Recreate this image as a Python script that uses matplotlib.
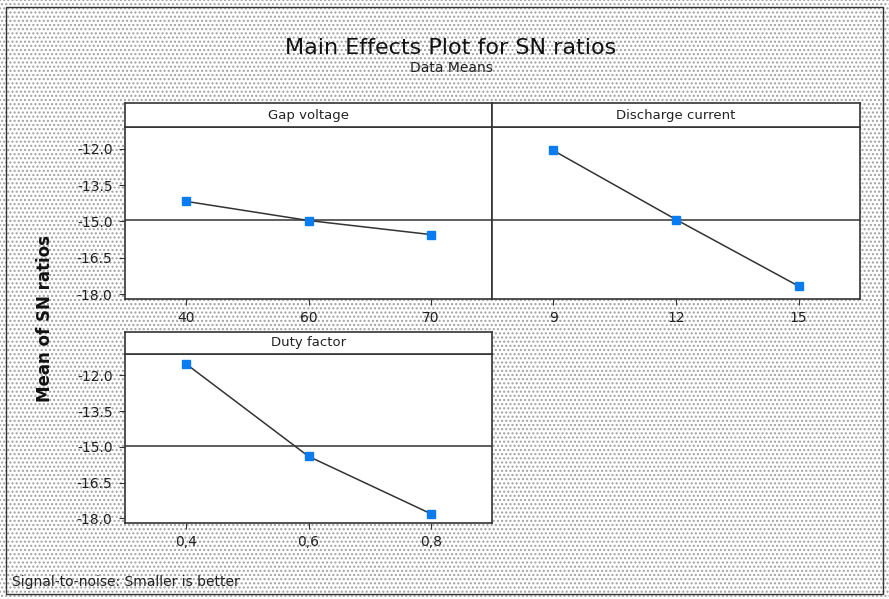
import matplotlib.pyplot as plt
from matplotlib.patches import Rectangle

# factor levels and mean SN ratios
gap_levels = ['40', '60', '70']
gap_sn = [-14.17, -14.96, -15.54]

current_levels = ['9', '12', '15']
current_sn = [-12.07, -14.92, -17.67]

duty_levels = ['0,4', '0,6', '0,8']
duty_sn = [-11.52, -15.40, -17.81]

overall_mean = -14.95
y_ticks = [-12.0, -13.5, -15.0, -16.5, -18.0]

W, H = 889, 599
fig = plt.figure(figsize=(W / 100, H / 100), dpi=100)

# dotted background like the minitab screenshot
bg = Rectangle((0, 0), 1, 1, transform=fig.transFigure, facecolor='white',
               edgecolor='#a0a0a0', hatch='....', lw=0, zorder=-10)
fig.patches.append(bg)
frame = Rectangle((6 / W, 5 / H), 1 - 12 / W, 1 - 12 / H, transform=fig.transFigure,
                  fill=False, edgecolor='#333333', lw=1.0, zorder=-5)
fig.patches.append(frame)


def px_box(x0, y0, x1, y1):
    return [x0 / W, 1 - y1 / H, (x1 - x0) / W, (y1 - y0) / H]


def panel(box, strip_top, title, levels, values, show_y):
    x0, y0, x1, y1 = box
    ax = fig.add_axes(px_box(x0, y0, x1, y1))
    st = fig.add_axes(px_box(x0, strip_top, x1, y0))
    for a in (ax, st):
        a.set_facecolor('white')
        for s in a.spines.values():
            s.set_color('#333333')
            s.set_linewidth(1.2)
    st.set_xticks([])
    st.set_yticks([])
    st.text(0.5, 0.5, title, ha='center', va='center', fontsize=9.5, color='#222222',
            transform=st.transAxes)

    xs = range(len(levels))
    ax.axhline(overall_mean, color='#333333', lw=1.1, zorder=1)
    ax.plot(xs, values, color='#333333', lw=1.1, zorder=2)
    ax.plot(xs, values, 's', color='#0a7cf2', ms=6, zorder=3)
    ax.set_xlim(-0.5, 2.5)
    ax.set_ylim(-18.2, -11.1)
    ax.set_xticks(list(xs))
    ax.set_xticklabels(levels)
    ax.set_yticks(y_ticks)
    ax.set_yticklabels([f'{t:.1f}' for t in y_ticks] if show_y else [])
    ax.tick_params(axis='both', direction='out', length=4, color='#333333',
                   labelsize=10, labelcolor='#222222', pad=5)
    if not show_y:
        ax.tick_params(axis='y', length=0)
    return ax


panel((125, 127, 492, 299), 103, 'Gap voltage', gap_levels, gap_sn, True)
panel((492, 127, 860, 299), 103, 'Discharge current', current_levels, current_sn, False)
panel((125, 354, 492, 523), 332, 'Duty factor', duty_levels, duty_sn, True)

fig.text(451 / W, 1 - 48 / H, 'Main Effects Plot for SN ratios', ha='center', va='center',
         fontsize=16, color='#111111')
fig.text(451 / W, 1 - 68 / H, 'Data Means', ha='center', va='center',
         fontsize=10, color='#222222')
fig.text(45 / W, 1 - 318 / H, 'Mean of SN ratios', ha='center', va='center',
         rotation=90, fontsize=12, fontweight='bold', color='#111111')
fig.text(12 / W, 1 - 582 / H, 'Signal-to-noise: Smaller is better', ha='left', va='center',
         fontsize=10, color='#222222')

fig.savefig('out.png', dpi=100)
